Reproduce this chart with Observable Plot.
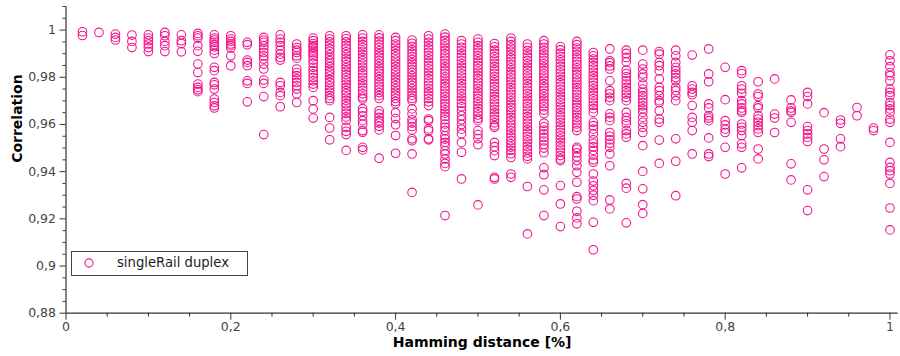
<!DOCTYPE html>
<html>
<head>
<meta charset="utf-8">
<script src="https://cdn.jsdelivr.net/npm/d3@7"></script>
<script src="https://cdn.jsdelivr.net/npm/@observablehq/plot@0.6"></script>
<style>
  html, body { margin: 0; padding: 0; background: #fff; }
  #wrap { position: relative; width: 900px; height: 356px; }
  #legend { position: absolute; left: 71px; top: 251px; width: 175px; height: 23px;
    border: 1px solid #444; background: #fff; font-family: "DejaVu Sans"; font-size: 13.2px; color: #222; }
  #legend svg { position: absolute; left: 11px; top: 5px; }
  #legend span { position: absolute; left: 45px; top: 3px; white-space: nowrap; }
</style>
</head>
<body>
<div id="wrap"></div>
<script>
const seriesName = "singleRail duplex";
const xLabel = "Hamming distance [%]";
const yLabel = "Correlation";

const xTickValues = [0, 0.2, 0.4, 0.6, 0.8, 1];
const xTickLabels = ["0", "0,2", "0,4", "0,6", "0,8", "1"];
const xMinorTicks = [0.05, 0.1, 0.15, 0.25, 0.3, 0.35, 0.45, 0.5, 0.55, 0.65, 0.7, 0.75, 0.85, 0.9, 0.95];
const yTickValues = [0.88, 0.9, 0.92, 0.94, 0.96, 0.98, 1];
const yTickLabels = ["0,88", "0,9", "0,92", "0,94", "0,96", "0,98", "1"];
const yMinorTicks = [0.885, 0.89, 0.895, 0.905, 0.91, 0.915, 0.925, 0.93, 0.935, 0.945, 0.95, 0.955,
  0.965, 0.97, 0.975, 0.985, 0.99, 0.995, 1.005, 1.01];

const hammingDistance = [0.02, 0.04, 0.06, 0.08, 0.10, 0.12, 0.14, 0.16, 0.18, 0.20,
  0.22, 0.24, 0.26, 0.28, 0.30, 0.32, 0.34, 0.36, 0.38, 0.40,
  0.42, 0.44, 0.46, 0.48, 0.50, 0.52, 0.54, 0.56, 0.58, 0.60,
  0.62, 0.64, 0.66, 0.68, 0.70, 0.72, 0.74, 0.76, 0.78, 0.80,
  0.82, 0.84, 0.86, 0.88, 0.90, 0.92, 0.94, 0.96, 0.98, 1.00];

const correlation = [
  [0.9993, 0.9977],
  [0.999],
  [0.9983, 0.9969, 0.9958],
  [0.9979, 0.9952, 0.9926],
  [0.998, 0.9966, 0.9955, 0.9941, 0.9926, 0.9909],
  [0.999, 0.9976, 0.9952, 0.9934, 0.9909],
  [0.998, 0.9955, 0.9943, 0.9908],
  [0.9986, 0.9976, 0.9966, 0.9934, 0.991, 0.9856, 0.982, 0.9771, 0.9757, 0.9747, 0.9739],
  [0.998, 0.9966, 0.9958, 0.9948, 0.9938, 0.9929, 0.9915, 0.9901, 0.9842, 0.9828, 0.9778, 0.9768, 0.975, 0.9708, 0.9693, 0.9679, 0.967],
  [0.9976, 0.9962, 0.9952, 0.9941, 0.9934, 0.9924, 0.9891, 0.9849],
  [0.9948, 0.9938, 0.9873, 0.9863, 0.9849, 0.9785, 0.9774, 0.9696],
  [0.9969, 0.9958, 0.9948, 0.9934, 0.992, 0.9905, 0.9891, 0.9877, 0.9856, 0.9835, 0.9788, 0.9774, 0.9718, 0.9557],
  [0.998, 0.9962, 0.9948, 0.9934, 0.9915, 0.9898, 0.9884, 0.9873, 0.9778, 0.9764, 0.9736, 0.9722, 0.9675],
  [0.9941, 0.9926, 0.9915, 0.9905, 0.9891, 0.9881, 0.9835, 0.982, 0.9807, 0.9793, 0.9778, 0.9764, 0.975, 0.9729, 0.9693],
  [0.9966, 0.9955, 0.9943, 0.9934, 0.9926, 0.9915, 0.9905, 0.9898, 0.9887, 0.9873, 0.9859, 0.9842, 0.9828, 0.9814, 0.9799, 0.9785, 0.9771, 0.9757, 0.9701, 0.9666, 0.9627],
  [0.9976, 0.9962, 0.995, 0.9936, 0.9921, 0.991, 0.9895, 0.9883, 0.987, 0.9858, 0.9845, 0.983, 0.9818, 0.9805, 0.979, 0.9778, 0.9764, 0.975, 0.9737, 0.9722, 0.971, 0.9701, 0.963, 0.9585, 0.9535],
  [0.9976, 0.9963, 0.995, 0.9935, 0.9922, 0.9908, 0.9895, 0.988, 0.9867, 0.9853, 0.984, 0.9826, 0.9812, 0.9798, 0.9785, 0.977, 0.9757, 0.9743, 0.973, 0.9716, 0.9702, 0.9688, 0.9675, 0.966, 0.9647, 0.9632, 0.9618, 0.9588, 0.9571, 0.9557, 0.949],
  [0.998, 0.9966, 0.9952, 0.9938, 0.9925, 0.991, 0.9897, 0.9883, 0.987, 0.9856, 0.9842, 0.9828, 0.9814, 0.98, 0.9786, 0.9772, 0.9758, 0.9744, 0.973, 0.9716, 0.9708, 0.9667, 0.9655, 0.9637, 0.9616, 0.9601, 0.9574, 0.9567, 0.9503, 0.9492],
  [0.998, 0.9967, 0.9953, 0.9939, 0.9926, 0.9912, 0.9899, 0.9885, 0.9871, 0.9858, 0.9844, 0.983, 0.9817, 0.9803, 0.979, 0.9776, 0.9762, 0.9749, 0.9735, 0.9722, 0.971, 0.9658, 0.9645, 0.963, 0.9616, 0.9606, 0.9592, 0.9577, 0.9457],
  [0.9969, 0.9955, 0.9941, 0.9928, 0.9914, 0.99, 0.9887, 0.9873, 0.986, 0.9846, 0.9832, 0.9819, 0.9805, 0.9792, 0.9778, 0.9764, 0.9751, 0.9737, 0.9724, 0.971, 0.9697, 0.9687, 0.965, 0.9625, 0.9599, 0.9553, 0.9478],
  [0.9958, 0.9944, 0.993, 0.9916, 0.9902, 0.9888, 0.9875, 0.9861, 0.9847, 0.9833, 0.982, 0.9806, 0.9792, 0.9778, 0.9765, 0.9751, 0.9737, 0.9723, 0.971, 0.9701, 0.9666, 0.9645, 0.962, 0.9606, 0.9591, 0.9577, 0.9539, 0.9531, 0.9475, 0.9312],
  [0.9976, 0.9962, 0.9948, 0.9934, 0.992, 0.9906, 0.9892, 0.9878, 0.9864, 0.985, 0.9836, 0.9822, 0.9808, 0.9794, 0.978, 0.9766, 0.9752, 0.9738, 0.9724, 0.971, 0.9696, 0.968, 0.9623, 0.9616, 0.9581, 0.9573, 0.9539, 0.9535],
  [0.9983, 0.997, 0.9956, 0.9942, 0.9928, 0.9914, 0.99, 0.9886, 0.9872, 0.9858, 0.9844, 0.983, 0.9816, 0.9802, 0.9788, 0.9774, 0.976, 0.9746, 0.9732, 0.9718, 0.9704, 0.969, 0.9676, 0.9662, 0.9648, 0.9634, 0.962, 0.9602, 0.9588, 0.9574, 0.9552, 0.9538, 0.9524, 0.951, 0.9489, 0.9475, 0.9454, 0.9435, 0.9421, 0.9214],
  [0.9955, 0.9941, 0.9927, 0.9913, 0.9899, 0.9885, 0.9871, 0.9857, 0.9843, 0.9829, 0.9815, 0.9801, 0.9787, 0.9773, 0.9759, 0.9745, 0.9731, 0.9717, 0.9703, 0.9689, 0.9675, 0.9658, 0.9637, 0.962, 0.96, 0.958, 0.956, 0.9524, 0.9482, 0.9369],
  [0.9962, 0.9948, 0.9934, 0.992, 0.9906, 0.9892, 0.9878, 0.9864, 0.985, 0.9836, 0.9822, 0.9808, 0.9794, 0.978, 0.9766, 0.9752, 0.9738, 0.9724, 0.971, 0.9696, 0.9682, 0.9668, 0.9654, 0.964, 0.9626, 0.9616, 0.9574, 0.9557, 0.954, 0.9514, 0.9259],
  [0.9943, 0.9929, 0.9915, 0.9901, 0.9887, 0.9873, 0.9859, 0.9845, 0.9831, 0.9817, 0.9803, 0.9789, 0.9775, 0.9761, 0.9747, 0.9733, 0.9719, 0.9705, 0.9691, 0.9677, 0.9663, 0.9649, 0.9635, 0.9621, 0.9607, 0.9595, 0.9588, 0.9524, 0.9506, 0.9489, 0.9468, 0.9376, 0.9369],
  [0.9966, 0.9952, 0.9938, 0.9924, 0.991, 0.9896, 0.9882, 0.9868, 0.9854, 0.984, 0.9826, 0.9812, 0.9798, 0.9784, 0.977, 0.9756, 0.9742, 0.9728, 0.9714, 0.97, 0.9686, 0.9672, 0.9658, 0.9644, 0.963, 0.9616, 0.9602, 0.9588, 0.9574, 0.956, 0.9546, 0.9532, 0.9518, 0.9504, 0.949, 0.9476, 0.946, 0.939, 0.9376],
  [0.9941, 0.9927, 0.9913, 0.9899, 0.9885, 0.9871, 0.9857, 0.9843, 0.9829, 0.9815, 0.9801, 0.9787, 0.9773, 0.9759, 0.9745, 0.9731, 0.9717, 0.9703, 0.9689, 0.9675, 0.9661, 0.9647, 0.9633, 0.9619, 0.9605, 0.9591, 0.9577, 0.9563, 0.9549, 0.9535, 0.9521, 0.9507, 0.9493, 0.9479, 0.9465, 0.9454, 0.9337, 0.9136],
  [0.9955, 0.9941, 0.9927, 0.9913, 0.9899, 0.9885, 0.9871, 0.9857, 0.9843, 0.9829, 0.9815, 0.9801, 0.9787, 0.9773, 0.9759, 0.9745, 0.9731, 0.9717, 0.9703, 0.9689, 0.9675, 0.9661, 0.9645, 0.9605, 0.959, 0.9575, 0.956, 0.9545, 0.953, 0.9515, 0.95, 0.948, 0.9416, 0.9387, 0.9323, 0.9214],
  [0.993, 0.9916, 0.9902, 0.9888, 0.9874, 0.986, 0.9846, 0.9832, 0.9818, 0.9804, 0.979, 0.9776, 0.9762, 0.9748, 0.9734, 0.972, 0.9706, 0.9692, 0.9678, 0.9664, 0.965, 0.9636, 0.9622, 0.9608, 0.9594, 0.958, 0.9566, 0.9552, 0.9538, 0.9524, 0.951, 0.9496, 0.9482, 0.9468, 0.9454, 0.9447, 0.9341, 0.9263, 0.9167],
  [0.9952, 0.9938, 0.9924, 0.991, 0.9896, 0.9882, 0.9868, 0.9854, 0.984, 0.9826, 0.9812, 0.9798, 0.9784, 0.977, 0.9756, 0.9742, 0.9728, 0.9714, 0.97, 0.9686, 0.9672, 0.9658, 0.9644, 0.963, 0.9616, 0.9602, 0.9588, 0.9574, 0.9503, 0.9496, 0.948, 0.9463, 0.9447, 0.9425, 0.9397, 0.9355, 0.9294, 0.9284, 0.9232, 0.9204, 0.9179],
  [0.9905, 0.9891, 0.9877, 0.9863, 0.9849, 0.9835, 0.9821, 0.9807, 0.9793, 0.9779, 0.9765, 0.9751, 0.9737, 0.9723, 0.9709, 0.9695, 0.9681, 0.9667, 0.9651, 0.9609, 0.9595, 0.958, 0.956, 0.9535, 0.952, 0.9505, 0.949, 0.947, 0.945, 0.944, 0.939, 0.936, 0.934, 0.932, 0.93, 0.9277, 0.9185, 0.9069],
  [0.992, 0.987, 0.9862, 0.9848, 0.9835, 0.9785, 0.9743, 0.973, 0.9715, 0.9701, 0.9645, 0.963, 0.9616, 0.9566, 0.955, 0.9535, 0.952, 0.9503, 0.9475, 0.9425, 0.928, 0.9242],
  [0.9915, 0.9901, 0.9884, 0.9865, 0.983, 0.9816, 0.9802, 0.9785, 0.9771, 0.9757, 0.9743, 0.9729, 0.9715, 0.9701, 0.9651, 0.963, 0.9616, 0.9603, 0.9574, 0.956, 0.9546, 0.935, 0.933, 0.9183],
  [0.9915, 0.9856, 0.9835, 0.9814, 0.9799, 0.9771, 0.975, 0.9736, 0.9722, 0.9708, 0.9693, 0.9679, 0.9666, 0.9651, 0.963, 0.9609, 0.9588, 0.9566, 0.951, 0.9401, 0.9327, 0.926, 0.9223],
  [0.9909, 0.9898, 0.9863, 0.9849, 0.9828, 0.9793, 0.9757, 0.9743, 0.9722, 0.9701, 0.9693, 0.9658, 0.9623, 0.9609, 0.9534, 0.9435],
  [0.9915, 0.9891, 0.9863, 0.9842, 0.9828, 0.9814, 0.9799, 0.9785, 0.9757, 0.9743, 0.9722, 0.9701, 0.9539, 0.9444, 0.9298],
  [0.9894, 0.9764, 0.975, 0.9736, 0.9726, 0.968, 0.963, 0.9609, 0.9574, 0.9475],
  [0.992, 0.9814, 0.9781, 0.9687, 0.967, 0.9637, 0.9627, 0.9616, 0.9543, 0.9475, 0.9464],
  [0.9842, 0.9705, 0.9616, 0.9598, 0.958, 0.9566, 0.9503, 0.939],
  [0.9828, 0.9816, 0.9764, 0.975, 0.9732, 0.9701, 0.9687, 0.967, 0.9658, 0.9651, 0.9602, 0.9588, 0.9574, 0.9553, 0.9518, 0.9503, 0.9416],
  [0.9781, 0.9729, 0.9718, 0.968, 0.967, 0.9637, 0.9623, 0.9609, 0.9595, 0.9581, 0.9566, 0.9496, 0.9454],
  [0.9793, 0.9644, 0.9627, 0.9566],
  [0.9704, 0.967, 0.9658, 0.9651, 0.9609, 0.9433, 0.9365],
  [0.9736, 0.9718, 0.9687, 0.9591, 0.9574, 0.956, 0.9545, 0.9528, 0.9323, 0.9235],
  [0.965, 0.9496, 0.945, 0.9379],
  [0.9619, 0.9605, 0.9539, 0.9506],
  [0.9672, 0.9637],
  [0.9585, 0.9574],
  [0.9895, 0.987, 0.9845, 0.982, 0.9807, 0.9785, 0.975, 0.9736, 0.9722, 0.9693, 0.968, 0.9666, 0.9651, 0.9623, 0.9609, 0.9524, 0.9439, 0.9418, 0.9404, 0.939, 0.935, 0.9246, 0.9153]
];

const pointColor = "#f2158b";

const points = hammingDistance.flatMap((h, i) => correlation[i].map(c => ({h, c})));
const labelOf = (values, labels) => v => labels[values.findIndex(t => Math.abs(t - v) < 1e-9)];

const chart = Plot.plot({
  width: 900,
  height: 356,
  marginLeft: 65.5,
  marginRight: 2.3,
  marginTop: 6,
  marginBottom: 43.3,
  style: {fontFamily: "DejaVu Sans", fontSize: "12.5px", color: "#444", background: "#fff"},
  x: {domain: [0, 1.01], label: null},
  y: {domain: [0.88, 1.01], label: null},
  marks: [
    Plot.dot(points, {x: "h", y: "c", r: 4.3, stroke: pointColor, strokeWidth: 1.1, fill: "none"}),
    Plot.axisX(xMinorTicks, {tickSize: 4, tickFormat: () => "", stroke: "#333", label: null}),
    Plot.axisX(xTickValues, {tickSize: 7, tickPadding: 2, tickFormat: labelOf(xTickValues, xTickLabels), stroke: "#333", fill: "#444", label: null}),
    Plot.axisY(yMinorTicks, {tickSize: 3, tickFormat: () => "", stroke: "#333", label: null}),
    Plot.axisY(yTickValues, {tickSize: 6, tickPadding: 4, tickFormat: labelOf(yTickValues, yTickLabels), stroke: "#333", fill: "#444", label: null}),
    Plot.ruleX([0], {stroke: "#333", strokeWidth: 1.2}),
    Plot.ruleY([0.88], {stroke: "#333", strokeWidth: 1.2}),
    Plot.text([xLabel], {frameAnchor: "bottom", dy: 34, text: d => d, fontWeight: "bold", fontSize: 14, fill: "#000"}),
    Plot.text([yLabel], {frameAnchor: "left", dx: -48, dy: 3, rotate: -90, text: d => d, fontWeight: "bold", fontSize: 14, fill: "#000"})
  ]
});

const wrap = document.getElementById("wrap");
wrap.appendChild(chart);
const legend = document.createElement("div");
legend.id = "legend";
legend.innerHTML = `<svg width="14" height="14"><circle cx="6" cy="6" r="4.1" fill="none" stroke="${pointColor}" stroke-width="1.1"></circle></svg><span></span>`;
legend.querySelector("span").textContent = seriesName;
wrap.appendChild(legend);
</script>
</body>
</html>
